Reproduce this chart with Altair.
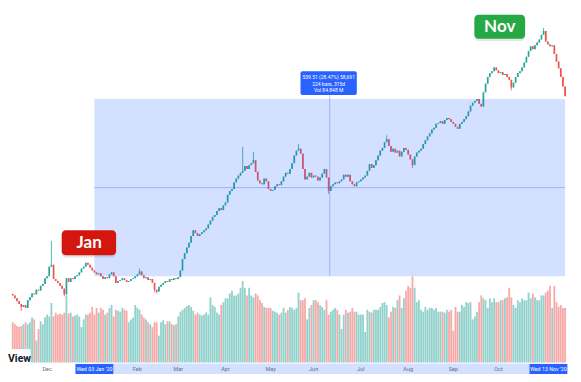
import altair as alt
import pandas as pd

# ---- data (daily candles, index 0 = first visible bar) ----
closes = [
    405.0, 403.1, 401.1, 399.2, 397.2, 398.5, 396.6, 401.8, 403.7, 406.3,
    405.7, 408.9, 408.3, 411.5, 412.8, 416.7, 418.0, 424.5, 425.8, 416.1,
    414.8, 413.5, 411.5, 409.6, 405.7, 416.7, 414.1, 416.7, 416.1, 418.0,
    418.7, 420.6, 423.2, 424.5, 427.1, 425.8, 423.9, 421.9, 420.6, 419.3,
    420.0, 418.0, 416.1, 417.4, 416.7, 419.3, 420.6, 418.0, 413.5, 414.8,
    415.4, 416.7, 415.4, 414.1, 414.8, 416.1, 416.7, 418.0, 419.3, 421.3,
    418.7, 416.7, 417.4, 415.4, 416.1, 413.5, 408.9, 407.6, 410.9, 412.2,
    413.5, 414.8, 414.1, 416.1, 415.4, 416.7, 416.1, 417.4, 421.9, 429.7,
    433.6, 437.5, 440.8, 445.3, 449.2, 447.3, 445.3, 446.6, 447.9, 449.2,
    450.5, 453.1, 455.7, 458.3, 459.6, 462.2, 464.2, 462.9, 466.1, 468.1,
    473.3, 475.9, 477.2, 481.7, 484.3, 486.3, 488.2, 489.5, 492.8, 490.8,
    493.4, 494.7, 496.7, 488.9, 483.0, 481.1, 480.4, 484.3, 482.4, 477.2,
    475.9, 476.5, 479.1, 480.4, 479.8, 482.4, 485.6, 488.2, 487.6, 490.8,
    494.7, 499.9, 503.2, 504.5, 501.2, 490.8, 483.7, 485.6, 488.2, 485.0,
    486.3, 485.6, 483.0, 485.0, 487.6, 490.8, 485.0, 475.9, 479.1, 480.4,
    481.7, 481.1, 482.4, 483.7, 486.9, 485.6, 486.9, 482.4, 480.4, 479.1,
    481.7, 482.4, 483.7, 485.0, 486.3, 489.5, 494.1, 491.5, 493.4, 496.7,
    499.9, 503.2, 505.1, 509.0, 511.0, 506.4, 502.5, 504.5, 501.9, 503.2,
    499.3, 502.5, 505.1, 503.8, 500.6, 497.3, 493.4, 499.3, 501.9, 503.2,
    504.5, 507.7, 510.3, 512.9, 514.9, 517.5, 518.8, 521.4, 522.0, 523.3,
    521.4, 524.0, 525.3, 524.6, 522.7, 521.4, 519.4, 518.1, 521.4, 522.7,
    524.6, 526.6, 529.8, 533.7, 535.7, 537.0, 538.3, 535.0, 533.1, 542.8,
    548.7, 553.2, 555.8, 557.1, 559.7, 557.8, 555.8, 556.5, 554.5, 555.2,
    553.2, 551.3, 546.1, 549.3, 553.2, 555.8, 557.1, 559.7, 563.0, 566.9,
    570.8, 574.0, 572.1, 574.7, 576.6, 578.6, 581.8, 584.4, 577.3, 575.3,
    574.0, 574.7, 568.8, 563.6, 559.1, 553.2, 546.7, 540.2,
]
first_open = 406.0

volumes = [
    42, 40, 38, 37, 38, 40, 42, 40, 42, 47,
    45, 23, 35, 43, 40, 47, 50, 48, 62, 48,
    52, 50, 51, 50, 52, 70, 51, 52, 48, 49,
    50, 48, 37, 45, 50, 50, 52, 58, 50, 57,
    52, 57, 55, 50, 52, 57, 60, 48, 55, 54,
    53, 57, 55, 54, 42, 45, 47, 60, 57, 55,
    50, 47, 45, 42, 40, 37, 42, 42, 28, 42,
    44, 40, 43, 43, 40, 39, 40, 48, 53, 55,
    57, 59, 60, 58, 54, 50, 52, 50, 49, 50,
    52, 50, 68, 60, 58, 52, 50, 60, 63, 67,
    67, 72, 75, 70, 70, 72, 78, 85, 78, 70,
    78, 70, 68, 72, 70, 65, 62, 58, 57, 57,
    57, 54, 53, 52, 50, 52, 57, 52, 55, 58,
    57, 55, 57, 73, 65, 65, 67, 45, 57, 60,
    65, 65, 63, 60, 58, 55, 65, 50, 53, 55,
    57, 55, 50, 35, 50, 55, 52, 53, 57, 53,
    53, 50, 50, 50, 32, 55, 53, 52, 55, 55,
    55, 58, 62, 63, 60, 47, 53, 58, 57, 65,
    70, 57, 67, 75, 80, 78, 90, 78, 63, 65,
    55, 53, 58, 55, 57, 57, 55, 57, 53, 53,
    53, 52, 55, 53, 55, 33, 58, 53, 53, 60,
    58, 63, 62, 63, 45, 48, 53, 63, 70, 67,
    65, 57, 67, 63, 67, 63, 63, 65, 65, 67,
    68, 78, 68, 60, 57, 65, 63, 67, 65, 65,
    73, 67, 72, 68, 65, 65, 70, 70, 73, 75,
    80, 57, 80, 63, 58, 60, 57, 57,
]

wick_highs = {18: 442.0, 59: 423.2, 107: 505.8, 112: 502.5, 133: 507.7,
              174: 513.6, 247: 586.4}
wick_lows = {4: 394.6, 24: 404.4, 66: 407.0, 67: 406.3, 147: 473.9,
             186: 491.5, 232: 544.1}

month_names = ["Dec", "Feb", "Mar", "Apr", "May", "Jun", "Jul", "Aug", "Sep", "Oct"]
month_starts = [16, 58, 77, 99, 120, 140, 162, 184, 205, 226]

range_start, range_end = 38, 257
range_low, range_high = 418.0, 538.3
tooltip_lines = ["539.51 (28.47%) 58,691", "224 bars, 315d", "Vol 84.848 M"]
date_labels = ["Wed 03 Jan '20", "Wed 13 Nov '20"]
date_idx = [38, 257]

# ---- table ----
n = len(closes)
opens = [first_open] + closes[:-1]
rows = []
for i in range(n):
    o, c = opens[i], closes[i]
    rows.append(dict(
        idx=i, open=o, close=c,
        high=wick_highs.get(i, max(o, c)),
        low=wick_lows.get(i, min(o, c)),
        vol=volumes[i], vbase=0,
        dir="up" if c >= o else "down",
    ))
df = pd.DataFrame(rows)

W, H = 565, 366
S = H / 382.0
X_LO, X_HI = 0.133, 258.356

xs = alt.Scale(domain=[X_LO, X_HI], nice=False, zero=False)
ps = alt.Scale(domain=[351.7, 600.0], nice=False, zero=False)
vs = alt.Scale(domain=[-12, 370], nice=False, zero=False)
col = alt.Color("dir:N", scale=alt.Scale(domain=["up", "down"], range=["#26a69a", "#ef5350"]), legend=None)

X = lambda f: alt.X(f, scale=xs, axis=None)
YP = lambda f: alt.Y(f, scale=ps, axis=None)

volume = alt.Chart(df).mark_bar(size=1.8, opacity=0.5, clip=True).encode(
    x=X("idx:Q"), y=alt.Y("vol:Q", scale=vs, axis=None), y2="vbase:Q", color=col)

wicks = alt.Chart(df).mark_rule(strokeWidth=0.8, clip=True).encode(
    x=X("idx:Q"), y=YP("low:Q"), y2="high:Q", color=col)

bodies = alt.Chart(df).mark_bar(size=1.7, clip=True).encode(
    x=X("idx:Q"), y=YP("open:Q"), y2="close:Q", color=col)

rng = pd.DataFrame(dict(x1=[range_start], x2=[range_end], y1=[range_low], y2=[range_high],
                        ym=[(range_low + range_high) / 2], xm=[(range_start + range_end) / 2]))

overlay = alt.Chart(rng).mark_rect(color="#2962ff", opacity=0.2).encode(
    x=X("x1:Q"), x2="x2:Q", y=YP("y1:Q"), y2="y2:Q")

strip = alt.Chart(rng).mark_rect(color="#2962ff", opacity=0.2).encode(
    x=X("x1:Q"), x2="x2:Q", y=alt.value(371 * S), y2=alt.value(H))

hline = alt.Chart(rng).mark_rule(color="#2962ff", opacity=0.35, strokeWidth=1).encode(
    x=X("x1:Q"), x2="x2:Q", y=YP("ym:Q"))

tip_box = pd.DataFrame(dict(x1=[133.9], x2=[160.1], y1=[540.9], y2=[557.1]))
vline = alt.Chart(rng.assign(top=[540.9])).mark_rule(color="#2962ff", opacity=0.35, strokeWidth=1).encode(
    x=X("xm:Q"), y=YP("y1:Q"), y2="top:Q")

tip_rect = alt.Chart(tip_box).mark_rect(color="#2962ff", cornerRadius=2).encode(
    x=X("x1:Q"), x2="x2:Q", y=YP("y1:Q"), y2="y2:Q")
tip_text_df = pd.DataFrame(dict(x=[147.0] * 3, y=[553.2, 548.6, 544.1], t=tooltip_lines))
tip_text = alt.Chart(tip_text_df).mark_text(color="white", fontSize=5, font="Roboto").encode(
    x=X("x:Q"), y=YP("y:Q"), text="t:N")

months_df = pd.DataFrame(dict(idx=month_starts, name=month_names))
months = alt.Chart(months_df).mark_text(color="#6a6d78", fontSize=5.5, font="Roboto").encode(
    x=X("idx:Q"), y=alt.value(376.5 * S), text="name:N")

# date boxes on the time strip; kept fully inside the chart
half = 8.8
box_x1, box_x2 = [], []
for i in date_idx:
    a, b = i - half, i + half
    if b > X_HI - 0.3:
        a, b = X_HI - 0.3 - 2 * half, X_HI - 0.3
    box_x1.append(a)
    box_x2.append(b)
date_df = pd.DataFrame(dict(lab=date_labels, x1=box_x1, x2=box_x2,
                            xm=[(a + b) / 2 for a, b in zip(box_x1, box_x2)]))
date_box = alt.Chart(date_df).mark_rect(color="#2962ff", clip=True).encode(
    x=X("x1:Q"), x2="x2:Q", y=alt.value(371.5 * S), y2=alt.value(H))
date_text = alt.Chart(date_df).mark_text(color="white", fontSize=5.3, font="Roboto").encode(
    x=X("xm:Q"), y=alt.value(377 * S), text="lab:N")

lab_df = pd.DataFrame(dict(
    t=["Jan", "Nov"], c=["#d3170f", "#26a844"],
    x1=[22.8, 214.8], x2=[48.1, 238.4], y1=[432.3, 579.2], y2=[449.2, 595.4],
    xm=[35.6, 226.6], ym=[440.6, 587.2]))
lab_shadow = alt.Chart(lab_df.assign(y1=lab_df.y1 - 1.6, y2=lab_df.y2 - 1.6)).mark_rect(
    color="#000000", opacity=0.10, cornerRadius=4).encode(
    x=X("x1:Q"), x2="x2:Q", y=YP("y1:Q"), y2="y2:Q")
lab_box = alt.Chart(lab_df).mark_rect(cornerRadius=4).encode(
    x=X("x1:Q"), x2="x2:Q", y=YP("y1:Q"), y2="y2:Q",
    color=alt.Color("c:N", scale=None))
lab_text = alt.Chart(lab_df).mark_text(color="white", fontSize=17, fontWeight="bold",
                                        font="Lato", baseline="middle").encode(
    x=X("xm:Q"), y=YP("ym:Q"), text="t:N")

logo_df = pd.DataFrame(dict(t=["View"]))
logo_bg = alt.Chart(logo_df).mark_rect(color="white").encode(
    x=alt.value(0), x2=alt.value(22.5), y=alt.value(356 * S), y2=alt.value(370.5 * S))
logo = alt.Chart(logo_df).mark_text(color="#131722", fontSize=10.5, fontWeight="bold",
                                     font="Roboto", align="left", baseline="alphabetic").encode(
    x=alt.value(0), y=alt.value(369 * S), text="t:N")

chart = alt.layer(
    volume, wicks, bodies, overlay, strip, hline, vline, tip_rect, tip_text,
    months, date_box, date_text, lab_shadow, lab_box, lab_text, logo_bg, logo,
).resolve_scale(y="independent").properties(
    width=W, height=H, padding=0,
    autosize=alt.AutoSizeParams(type="fit", contains="padding"),
    background="white",
).configure_view(strokeWidth=0)

chart.save("out.html", embed_options={"renderer": "svg", "actions": False})
